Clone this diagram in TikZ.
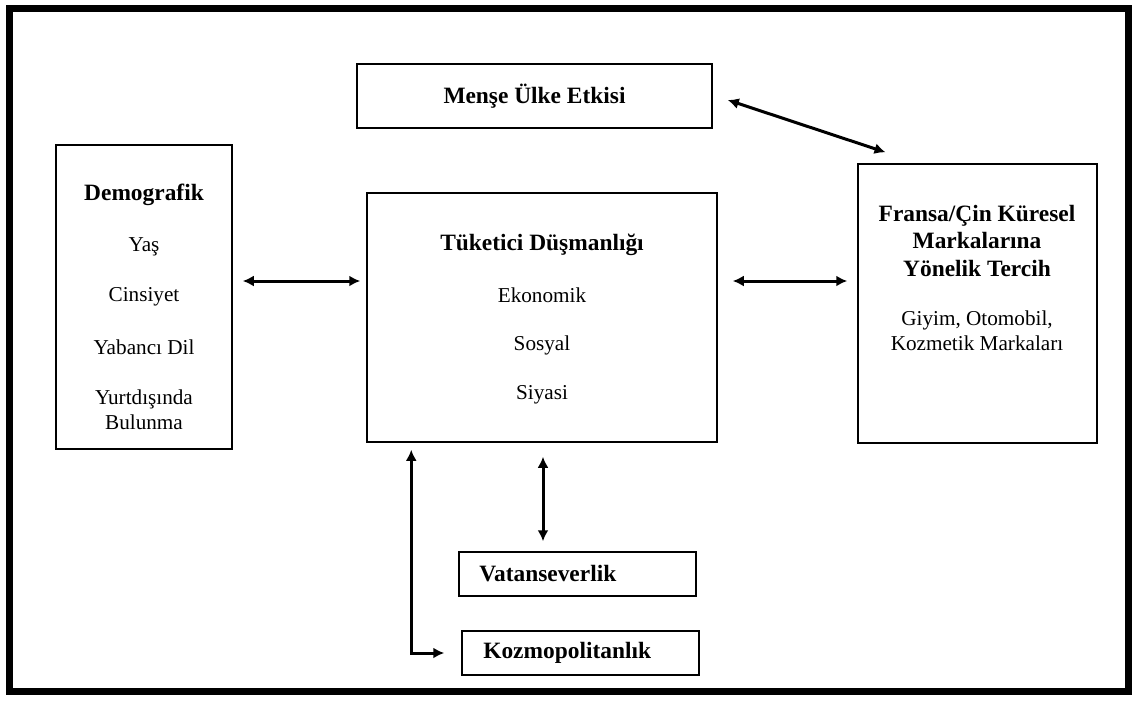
\documentclass[tikz,border=0pt]{standalone}
\usepackage{fontspec}
\setmainfont{Liberation Serif}
\usetikzlibrary{arrows.meta}
\tikzset{
  kutu/.style={draw, line width=0.75pt, inner sep=0pt},
  baslik/.style={font=\fontsize{11.7}{13.75}\selectfont\bfseries, align=center},
  madde/.style={font=\fontsize{10.6}{12.5}\selectfont, align=center},
  ok/.style={line width=1.5pt, {Latex[length=5.5pt,width=5.5pt]}-{Latex[length=5.5pt,width=5.5pt]}},
}
\begin{document}
\begin{tikzpicture}[x=0.5pt, y=-0.5pt]
      \useasboundingbox (0,0) rectangle (1135,709);
      \draw[line width=3.5pt] (9.5,8.5) rectangle (1128.5,691.5);
      % kutular
      \node[kutu, minimum width=88pt, minimum height=152pt] (demo) at (144,297) {};
      \node[kutu, minimum width=177.5pt, minimum height=32pt] (mense) at (534.5,96) {};
      \node[kutu, minimum width=175pt, minimum height=124.5pt] (merkez) at (542,317.5) {};
      \node[kutu, minimum width=119.5pt, minimum height=139.5pt] (tercih) at (977.5,303.5) {};
      \node[kutu, minimum width=118.5pt, minimum height=22pt] (vatan) at (577.5,574) {};
      \node[kutu, minimum width=118.5pt, minimum height=22pt] (kozmo) at (580.5,653) {};
      % yazilar
      \node[baslik] (demob) at (144,195) {Demografik};
      \node[madde] (yas) at (144,247) {Yaş};
      \node[madde] (cins) at (144,297) {Cinsiyet};
      \node[madde] (dil) at (144,347) {Yabancı Dil};
      \node[madde] (yurt) at (144,409.5) {Yurtdışında\\Bulunma};
      \node[baslik] (menseb) at (534.5,96) {Menşe Ülke Etkisi};
      \node[baslik] (merkezb) at (542,245) {Tüketici Düşmanlığı};
      \node[madde] (eko) at (542,295) {Ekonomik};
      \node[madde] (sos) at (542,345) {Sosyal};
      \node[madde] (siy) at (542,395) {Siyasi};
      \node[baslik] (tercihb) at (977,240.5) {Fransa/Çin Küresel\\Markalarına\\Yönelik Tercih};
      \node[madde] (marka) at (977,330.5) {Giyim, Otomobil,\\Kozmetik Markaları};
      \node[baslik, anchor=west] (vatanb) at ([xshift=7pt]vatan.west) {Vatanseverlik};
      \node[baslik, anchor=west] (kozmob) at ([xshift=7.5pt]kozmo.west) {Kozmopolitanlık};
      % oklar
      \draw[ok] ([shift={(10,-16)}]demo.east) -- ([shift={(-6,-36.5)}]merkez.west);
      \draw[ok] ([shift={(15,-36.5)}]merkez.east) -- ([shift={(-10,-22.5)}]tercih.west);
      \draw[ok] ([shift={(15,4)}]mense.east) -- ([shift={(-92,-11)}]tercih.north);
      \draw[ok] ([shift={(1,14)}]merkez.south) -- ([shift={(-34.5,-10)}]vatan.north);
      \draw[ok] ([shift={(45,7)}]merkez.south west) |- ([xshift=-8.5pt]kozmo.west);
\end{tikzpicture}
\end{document}
